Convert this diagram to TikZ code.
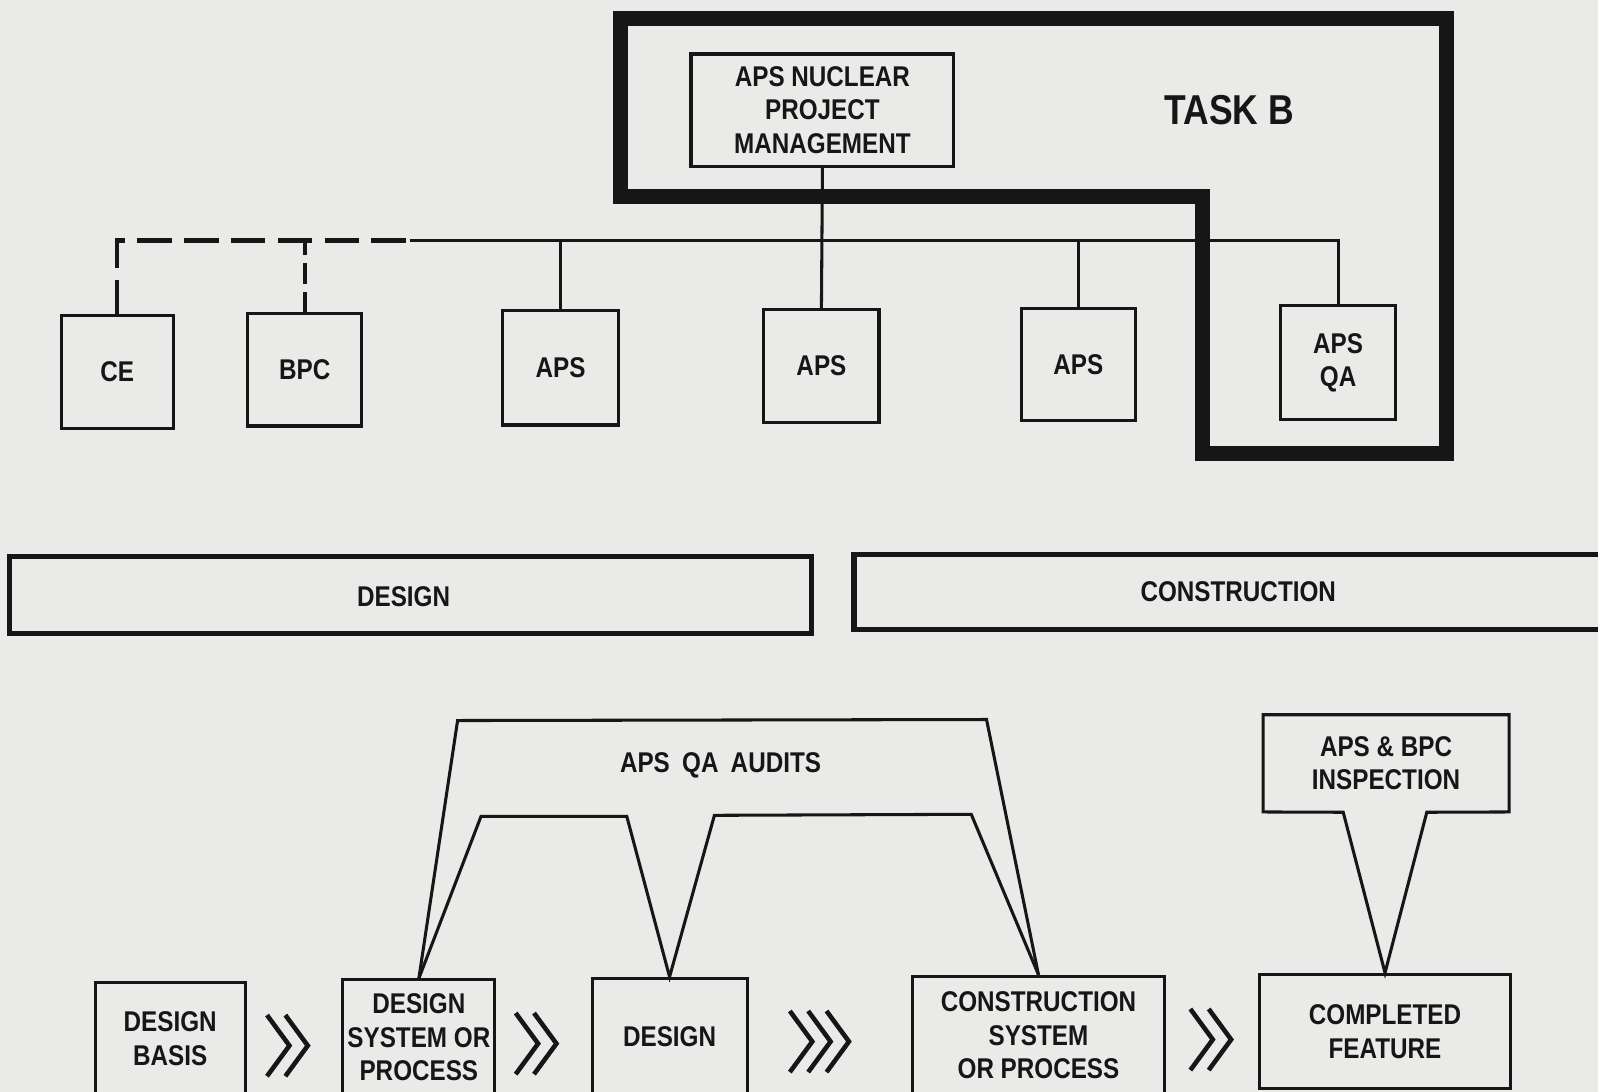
\documentclass[tikz,border=0pt]{standalone}
\usepackage{fontspec}
\newfontfamily\cond[FakeStretch=0.85]{Liberation Sans Bold}
\usetikzlibrary{calc}
\definecolor{paper}{RGB}{234,234,232}
\definecolor{ink}{RGB}{22,22,22}
\begin{document}
\begin{tikzpicture}[x=1pt,y=-1pt,
  box/.style={draw=ink, text=ink, line width=3pt, inner sep=0pt, align=center, font=\cond\fontsize{28}{33}\selectfont},
  band/.style={draw=ink, text=ink, line width=5pt, inner sep=0pt, align=center, font=\cond\fontsize{28}{33}\selectfont},
  lbl/.style={text=ink, font=\cond\fontsize{28}{33}\selectfont, align=center, inner sep=0pt},
  wire/.style={draw=ink, line width=3pt},
  hdash/.style={draw=ink, line width=4pt, dash pattern=on 34pt off 12pt},
  vdash/.style={draw=ink, line width=4pt, dash pattern=on 20pt off 8pt},
  taskline/.style={draw=ink, line width=15pt, line join=miter},
  chevstroke/.style={draw=ink, line width=4.5pt},
  dchev/.pic={\draw[chevstroke] (-20,-30) -- (2,0) -- (-20,30) (-2,-30) -- (20,0) -- (-2,30);},
  tchev/.pic={\draw[chevstroke] (-29,-30) -- (-7,0) -- (-29,30) (-11,-30) -- (11,0) -- (-11,30) (7,-30) -- (29,0) -- (7,30);}
]
\useasboundingbox (0,0) rectangle (1568,1071);
\clip (0,0) rectangle (1568,1071);
\fill[paper] (0,0) rectangle (1568,1071);

% ---------- Task B outline ----------
\draw[taskline] (609,18) -- (1419,18) -- (1419,445) -- (1180,445) -- (1180,193) -- (609,193) -- cycle;
\node[lbl] (taskb) at (1206,108) {\fontsize{41}{44}\selectfont TASK B};

% ---------- organisation chart ----------
\node[box, minimum width=258pt, minimum height=110pt] (apm) at (807,108) {APS NUCLEAR\\PROJECT\\MANAGEMENT};
\node[box, minimum width=110pt, minimum height=110pt] (ce) at (115,365) {CE};
\node[box, minimum width=112pt, minimum height=110pt] (bpc) at (299,363) {BPC};
\node[box, minimum width=113pt, minimum height=112pt] (aps1) at (550,361) {APS};
\node[box, minimum width=113pt, minimum height=111pt] (aps2) at (806,359) {APS};
\node[box, minimum width=112pt, minimum height=110pt] (aps3) at (1058,358) {APS};
\node[box, minimum width=113pt, minimum height=112pt] (apsqa) at (1313,356) {APS\\QA};

\coordinate (bus) at (0,236);
\coordinate (busmid) at (402,236);
\draw[hdash] (ce.north) -- (ce.north |- bus) -- (busmid);
\draw[vdash] (bpc.north) -- (bpc.north |- bus);
\draw[wire] (busmid) -- (apsqa.north |- bus) -- (apsqa.north);
\draw[wire] (apm.south) -- (aps2.north);
\draw[wire] (aps1.north |- bus) -- (aps1.north);
\draw[wire] (aps3.north |- bus) -- (aps3.north);

% ---------- phase bands ----------
\node[band, minimum width=787pt, minimum height=76pt] (designband) at (403,584) {};
\node[lbl] (designlbl) at (396,585) {DESIGN};
\node[band, minimum width=754pt, minimum height=74pt] (constrband) at (1215,581) {CONSTRUCTION};

% ---------- flow ----------
\node[box, minimum width=147pt, minimum height=110pt] (db) at (167,1019) {DESIGN\\BASIS};
\node[box, minimum width=149pt, minimum height=113pt] (dsp) at (411,1018) {DESIGN\\SYSTEM OR\\PROCESS};
\node[box, minimum width=152pt, minimum height=114pt] (des) at (657,1017) {DESIGN};
\node[box, minimum width=248pt, minimum height=116pt] (csp) at (1019,1016) {CONSTRUCTION\\SYSTEM\\OR PROCESS};
\node[box, minimum width=247pt, minimum height=112pt] (cf) at (1359,1012) {COMPLETED\\FEATURE};

\pic at (282,1026) {dchev};
\pic at (526,1024) {dchev};
\pic at (804,1022) {tchev};
\pic at (1188,1020) {dchev};

% ---------- audits ----------
\draw[wire, line join=miter] (dsp.north) -- (449,707) -- (968,706) -- (csp.north);
\draw[wire, line join=miter] (dsp.north) -- (472,801) -- (615,801) -- (des.north) -- (701,800) -- (953,799) -- (csp.north);
\node[lbl] (audits) at (707,751) {APS\hspace{12pt}QA\hspace{12pt}AUDITS};

% ---------- inspection callout ----------
\node[lbl, minimum width=241pt, minimum height=95pt] (insp) at (1360,749) {APS \& BPC\\INSPECTION};
\draw[wire, line join=miter] (insp.south west) -- (insp.north west) -- (insp.north east) -- (insp.south east) -- (1400,797) -- (cf.north) -- (1318,797) -- cycle;
\end{tikzpicture}
\end{document}
